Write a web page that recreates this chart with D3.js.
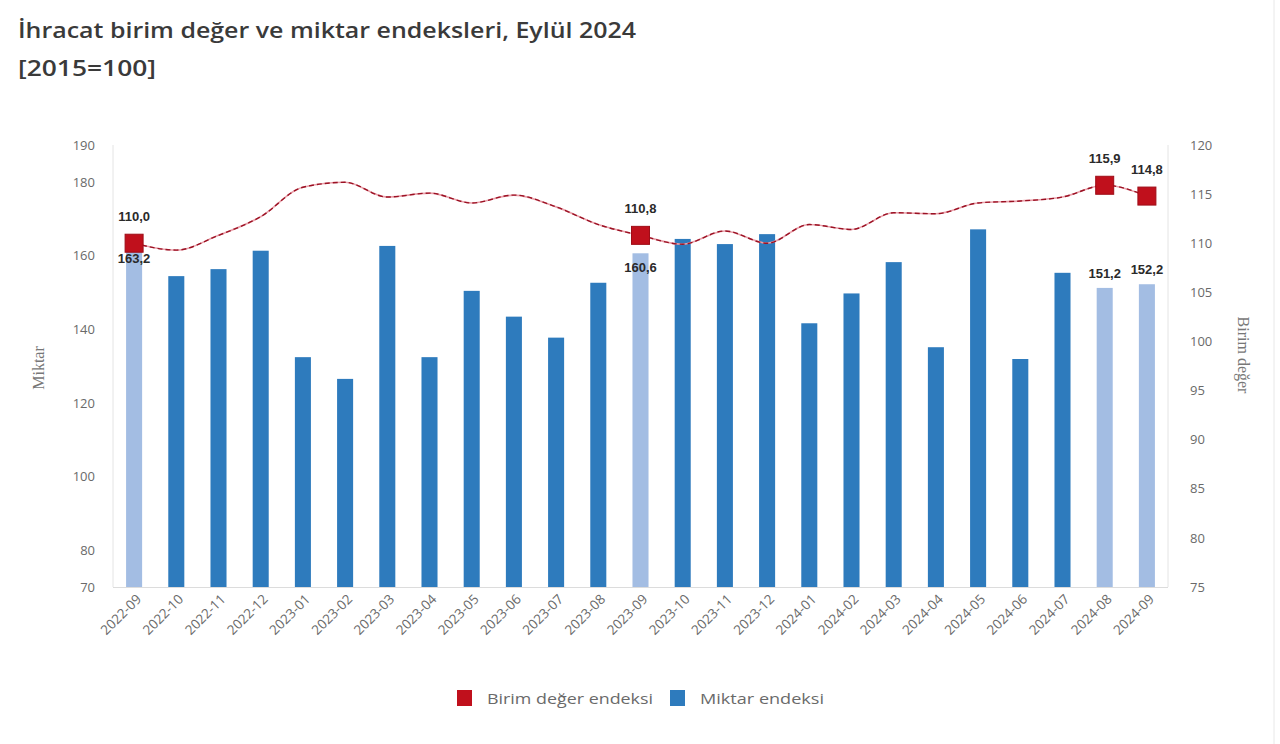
<!DOCTYPE html>
<html><head><meta charset="utf-8">
<script src="https://cdn.jsdelivr.net/npm/d3@7"></script>
<style>body{margin:0;background:#fff}svg{display:block}</style>
</head><body>
<svg id="c" width="1280" height="744"></svg>
<script>
const categories = ["2022-09","2022-10","2022-11","2022-12","2023-01","2023-02","2023-03","2023-04","2023-05","2023-06","2023-07","2023-08","2023-09","2023-10","2023-11","2023-12","2024-01","2024-02","2024-03","2024-04","2024-05","2024-06","2024-07","2024-08","2024-09"];
const miktar = [163.2,154.4,156.3,161.3,132.4,126.5,162.6,132.4,150.4,143.4,137.7,152.6,160.6,164.5,163.1,165.8,141.6,149.7,158.2,135.1,167.1,131.9,155.3,151.2,152.2];
const birimDeger = [110.0,109.3,110.8,112.7,115.7,116.2,114.7,115.1,114.1,114.9,113.7,111.9,110.8,109.9,111.25,110.0,111.9,111.4,113.1,113.0,114.1,114.3,114.7,115.9,114.8];
const highlighted = ["2022-09","2023-09","2024-08","2024-09"];
const leftTicks = [70,80,100,120,140,160,180,190];
const rightTicks = [75,80,85,90,95,100,105,110,115,120];
const title1 = "İhracat birim değer ve miktar endeksleri, Eylül 2024";
const title2 = "[2015=100]";
const leftTitle = "Miktar";
const rightTitle = "Birim değer";
const legendItems = ["Birim değer endeksi","Miktar endeksi"];

const svg = d3.select("#c");
const L = 113, R = 1168, T = 145, B = 587;
const fmt = v => d3.format(".1f")(v).replace(".", ",");
const isHi = c => highlighted.includes(c);

const x = d3.scaleBand().domain(categories).range([L, R]).paddingInner(0.62).paddingOuter(0.31);
const yL = d3.scaleLinear().domain([70,190]).range([B, T]);
const yR = d3.scaleLinear().domain([75,120]).range([B, T]);
const cx = c => x(c) + x.bandwidth()/2;

// titles
svg.append("text").attr("x",18).attr("y",38).attr("font-family","'Open Sans',sans-serif").attr("font-weight",600)
  .attr("font-size",22).attr("fill","#3a3a3a").attr("textLength",618).attr("lengthAdjust","spacingAndGlyphs").text(title1);
svg.append("text").attr("x",18).attr("y",76).attr("font-family","'Open Sans',sans-serif").attr("font-weight",600)
  .attr("font-size",22).attr("fill","#3a3a3a").attr("textLength",138).attr("lengthAdjust","spacingAndGlyphs").text(title2);

// frame lines
svg.append("line").attr("x1",L).attr("x2",L).attr("y1",T).attr("y2",B).attr("stroke","#e4e4e4");
svg.append("line").attr("x1",R).attr("x2",R).attr("y1",T).attr("y2",B).attr("stroke","#e4e4e4");
svg.append("line").attr("x1",1274).attr("x2",1274).attr("y1",0).attr("y2",744).attr("stroke","#e8e8e8");

// bars
svg.append("g").selectAll("rect").data(categories).join("rect")
  .attr("x", c => x(c)).attr("width", x.bandwidth())
  .attr("y", (c,i) => yL(miktar[i])).attr("height", (c,i) => B - yL(miktar[i]))
  .attr("fill", c => isHi(c) ? "#a3bde3" : "#2e7bbd");

// bottom axis line
svg.append("line").attr("x1",L).attr("x2",R).attr("y1",B+0.5).attr("y2",B+0.5).attr("stroke","#dcdcdc");

// axes
const axL = d3.axisLeft(yL).tickValues(leftTicks).tickSize(0).tickPadding(0);
const gL = svg.append("g").attr("transform",`translate(95,0)`).call(axL);
gL.select(".domain").remove();
gL.selectAll("text").attr("font-family","'Open Sans',sans-serif").attr("font-size",13).attr("fill","#6a6a6a");

const axR = d3.axisRight(yR).tickValues(rightTicks).tickSize(0).tickPadding(0);
const gR = svg.append("g").attr("transform",`translate(1190,0)`).call(axR);
gR.select(".domain").remove();
gR.selectAll("text").attr("font-family","'Open Sans',sans-serif").attr("font-size",13).attr("fill","#6a6a6a");

const axB = d3.axisBottom(x).tickSize(0).tickPadding(0);
const gB = svg.append("g").attr("transform",`translate(0,${B})`).call(axB);
gB.select(".domain").remove();
gB.selectAll("text").attr("font-family","'Open Sans',sans-serif").attr("font-size",13.5).attr("fill","#6a6a6a")
  .attr("text-anchor","end").attr("dy",0).attr("transform","translate(8,13) rotate(-45)");

// axis titles
svg.append("text").attr("transform","translate(44,368) rotate(-90)").attr("text-anchor","middle")
  .attr("font-family","'Liberation Serif',serif").attr("font-size",16).attr("fill","#777").text(leftTitle);
svg.append("text").attr("transform","translate(1238,355) rotate(90)").attr("text-anchor","middle")
  .attr("font-family","'Liberation Serif',serif").attr("font-size",16).attr("fill","#777").text(rightTitle);

// line
const line = d3.line().x((d,i) => cx(categories[i])).y(d => yR(d)).curve(d3.curveMonotoneX);
svg.append("path").datum(birimDeger).attr("d",line).attr("fill","none").attr("stroke","#eaa0aa").attr("stroke-width",1.6);
svg.append("path").datum(birimDeger).attr("d",line).attr("fill","none").attr("stroke","#9a1224").attr("stroke-width",1.4).attr("stroke-dasharray","5,3");

// markers
const hiIdx = categories.map((c,i)=>i).filter(i => isHi(categories[i]));
svg.append("g").selectAll("rect").data(hiIdx).join("rect")
  .attr("x", i => cx(categories[i]) - 9).attr("y", i => yR(birimDeger[i]) - 9)
  .attr("width",18).attr("height",18).attr("fill","#c0101c").attr("stroke","#9e0d17").attr("stroke-width",1);

// labels
const lbl = svg.append("g").attr("font-family","'Liberation Sans',Arial,sans-serif").attr("font-weight",700)
  .attr("font-size",13).attr("fill","#2a2a2a").attr("text-anchor","middle");
hiIdx.forEach(i => {
  const c = categories[i];
  const ym = yR(birimDeger[i]), yb = yL(miktar[i]);
  lbl.append("text").attr("x",cx(c)).attr("y",ym - 22).text(fmt(birimDeger[i]));
  const inside = Math.abs(ym - yb) < 25;
  lbl.append("text").attr("x",cx(c)).attr("y", inside ? yb + 19 : yb - 10).text(fmt(miktar[i]));
});

// legend
const lg = svg.append("g").attr("font-family","'Open Sans',sans-serif").attr("font-size",15).attr("fill","#6a6a6a");
lg.append("rect").attr("x",457).attr("y",690).attr("width",15).attr("height",16).attr("fill","#c0101c");
lg.append("text").attr("x",487).attr("y",704).attr("textLength",166).attr("lengthAdjust","spacingAndGlyphs").text(legendItems[0]);
lg.append("rect").attr("x",670).attr("y",690).attr("width",15).attr("height",16).attr("fill","#2e7bbd");
lg.append("text").attr("x",700).attr("y",704).attr("textLength",124).attr("lengthAdjust","spacingAndGlyphs").text(legendItems[1]);
</script>
</body></html>
